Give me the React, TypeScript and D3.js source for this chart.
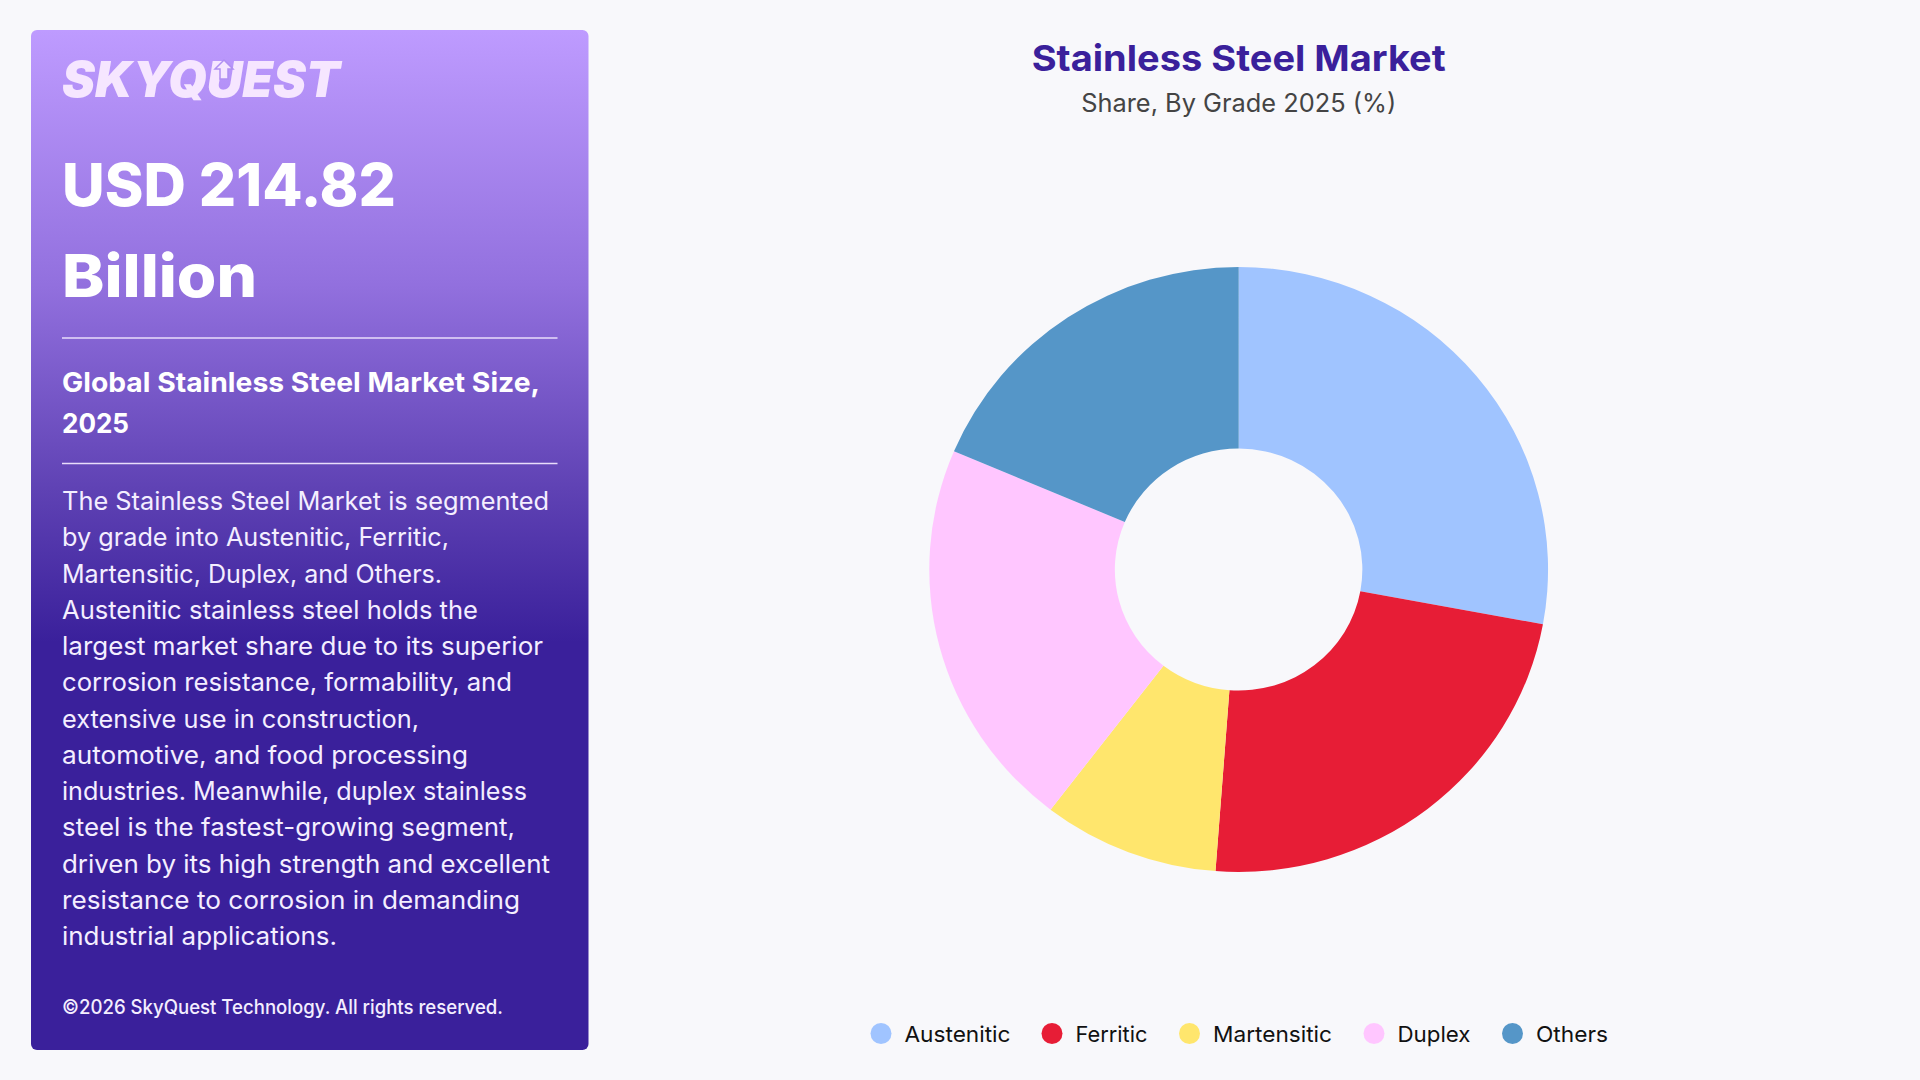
import * as d3 from "d3";

const GRADES = ["Austenitic", "Ferritic", "Martensitic", "Duplex", "Others"];
const SHARES = [27.9, 23.3, 9.2, 21.0, 18.6];
const COLORS = ["#A0C4FF", "#E71D36", "#FFE66D", "#FFC6FF", "#5596C8"];

const HEADLINE = ["USD 214.82", "Billion"];
const SUBHEAD = ["Global Stainless Steel Market Size,", "2025"];
const BODY = [
  "The Stainless Steel Market is segmented",
  "by grade into Austenitic, Ferritic,",
  "Martensitic, Duplex, and Others.",
  "Austenitic stainless steel holds the",
  "largest market share due to its superior",
  "corrosion resistance, formability, and",
  "extensive use in construction,",
  "automotive, and food processing",
  "industries. Meanwhile, duplex stainless",
  "steel is the fastest-growing segment,",
  "driven by its high strength and excellent",
  "resistance to corrosion in demanding",
  "industrial applications.",
];

// measured widths, the fonts here run a bit different from the original
const BODY_WIDTHS = [487, 387, 380, 416, 481, 450, 357, 406, 465, 453, 488, 458, 275];
const SUBHEAD_WIDTHS = [478, 67];
const HEADLINE_WIDTHS = [334, 195];
const LEGEND_DOT_X = [881, 1052, 1189.5, 1374, 1512.5];
const LEGEND_TEXT_WIDTHS = [106, 72, 119, 73, 72];

const FONT = "Inter, 'Noto Sans', sans-serif";
const cx = 1238.7;
const cy = 569.5;
const rx = 309.5;
const ry = 302.5;

const pie = d3.pie<number>().sort(null);
const arc = d3
  .arc<d3.PieArcDatum<number>>()
  .innerRadius(0.4)
  .outerRadius(1);

export default function App() {
  const slices = pie(SHARES);

  return (
    <svg
      width={1920}
      height={1080}
      style={{ position: "absolute", left: 0, top: 0, display: "block" }}
      fontFamily={FONT}
    >
      <defs>
        <linearGradient id="panel" x1="0" y1="0" x2="0" y2="1">
          <stop offset="0" stopColor="#BE9BFF" />
          <stop offset="0.25" stopColor="#9270DE" />
          <stop offset="0.45" stopColor="#5F42B4" />
          <stop offset="0.6" stopColor="#3A209B" />
          <stop offset="1" stopColor="#3A209B" />
        </linearGradient>
      </defs>
      <rect width={1920} height={1080} fill="#F8F8FB" />

      {/* left panel */}
      <rect x={31} y={30} width={557.5} height={1020} rx={6} fill="url(#panel)" />
      <text
        x={62}
        y={97}
        fontSize={49}
        fontWeight={900}
        fontStyle="italic"
        fill="#F6E6FF"
        textLength={278}
        lengthAdjust="spacingAndGlyphs"
      >
        SKYQUEST
      </text>
      {/* little arrow of the logo, sits in the U */}
      <path
        d="M224 60 L233 69 L228 69 L228 79 L220 79 L220 69 L215 69 Z"
        fill="#F6E6FF"
        stroke="#B08FF2"
        strokeWidth={1.5}
      />
      {HEADLINE.map((line, i) => (
        <text
          key={line}
          x={62}
          y={205.5 + i * 91}
          fontSize={59}
          fontWeight={800}
          fill="#fff"
          textLength={HEADLINE_WIDTHS[i]}
          lengthAdjust="spacingAndGlyphs"
        >
          {line}
        </text>
      ))}
      <line x1={62} x2={557.5} y1={338} y2={338} stroke="#E9DDFB" strokeWidth={1.5} />
      {SUBHEAD.map((line, i) => (
        <text
          key={line}
          x={62}
          y={392 + i * 40.5}
          fontSize={27.5}
          fontWeight={700}
          fill="#fff"
          textLength={SUBHEAD_WIDTHS[i]}
          lengthAdjust="spacingAndGlyphs"
        >
          {line}
        </text>
      ))}
      <line x1={62} x2={557.5} y1={463.5} y2={463.5} stroke="#E9DDFB" strokeWidth={1.5} />
      {BODY.map((line, i) => (
        <text
          key={line}
          x={62}
          y={510 + i * 36.25}
          fontSize={25}
          fontWeight={400}
          fill="#F4EEFF"
          textLength={BODY_WIDTHS[i]}
          lengthAdjust="spacingAndGlyphs"
        >
          {line}
        </text>
      ))}
      <text
        x={62}
        y={1014}
        fontSize={19.5}
        fontWeight={500}
        fill="#F4EEFF"
        textLength={441}
        lengthAdjust="spacingAndGlyphs"
      >
        ©2026 SkyQuest Technology. All rights reserved.
      </text>

      {/* titles */}
      <text
        x={cx}
        y={71}
        textAnchor="middle"
        fontSize={36}
        fontWeight={700}
        fill="#3A209B"
        textLength={414}
        lengthAdjust="spacingAndGlyphs"
      >
        Stainless Steel Market
      </text>
      <text
        x={cx}
        y={112}
        textAnchor="middle"
        fontSize={25}
        fontWeight={400}
        fill="#444"
        textLength={315}
        lengthAdjust="spacingAndGlyphs"
      >
        Share, By Grade 2025 (%)
      </text>

      {/* donut, slightly wider than tall in the original */}
      <g transform={`translate(${cx},${cy}) scale(${rx},${ry})`}>
        {slices.map((s, i) => (
          <path key={GRADES[i]} d={arc(s) ?? ""} fill={COLORS[i]} />
        ))}
      </g>

      {/* legend */}
      {GRADES.map((g, i) => (
        <g key={g}>
          <circle cx={LEGEND_DOT_X[i]} cy={1033.5} r={10.5} fill={COLORS[i]} />
          <text
            x={LEGEND_DOT_X[i] + 23.5}
            y={1041.5}
            fontSize={22}
            fill="#111"
            textLength={LEGEND_TEXT_WIDTHS[i]}
            lengthAdjust="spacingAndGlyphs"
          >
            {g}
          </text>
        </g>
      ))}
    </svg>
  );
}
